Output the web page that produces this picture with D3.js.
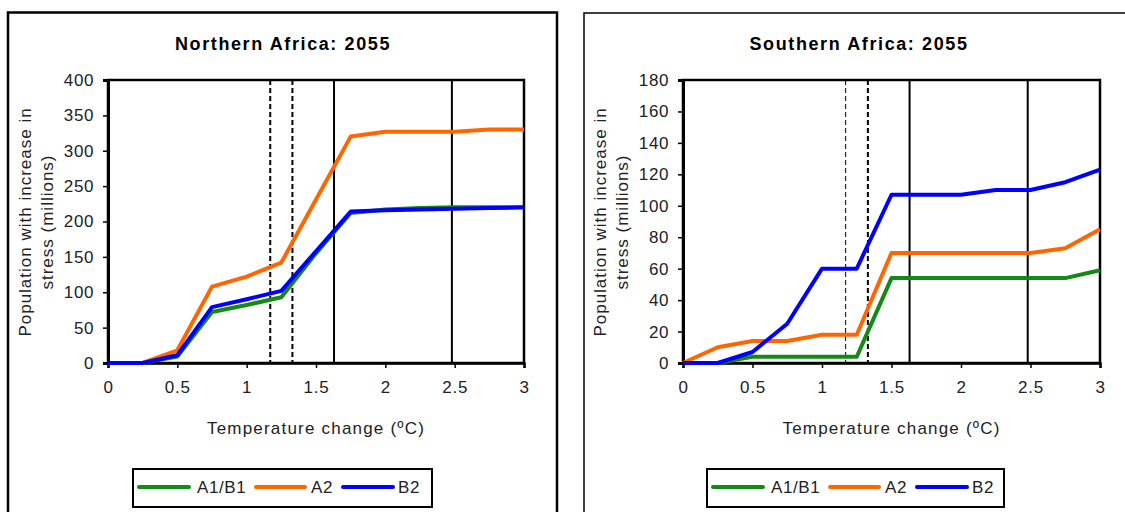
<!DOCTYPE html>
<html>
<head>
<meta charset="utf-8">
<script src="https://cdn.jsdelivr.net/npm/d3@7"></script>
<style>
  body { margin: 0; background: #fff; }
  svg { display: block; font-family: "Liberation Sans", Arial, sans-serif; }
</style>
</head>
<body>
<svg id="chart" width="1125" height="512"></svg>
<script>
// temperature steps (deg C)
var temps = [0, 0.25, 0.5, 0.75, 1, 1.25, 1.5, 1.75, 2, 2.25, 2.5, 2.75, 3];

// Northern Africa, population with increase in stress (millions)
var northA1B1 = [0, 0, 9, 72, 82, 93, 155, 212, 217, 219, 220, 220, 220];
var northA2   = [0, 0, 18, 108, 122, 142, 231, 320, 327, 327, 327, 330, 330];
var northB2   = [0, 0, 11, 79, 90, 102, 158, 214, 216, 217, 218, 219, 220];

// Southern Africa
var southA1B1 = [0, 0, 4, 4, 4, 4, 54, 54, 54, 54, 54, 54, 59];
var southA2   = [0, 10, 14, 14, 18, 18, 70, 70, 70, 70, 70, 73, 85];
var southB2   = [0, 0, 7, 25, 60, 60, 107, 107, 107, 110, 110, 115, 123];

var seriesNames = ["A1/B1", "A2", "B2"];
var seriesColors = ["#138a13", "#ff6600", "#0000ff"];

// reference temperatures (vertical lines)
var refTemps = [1.17, 1.33, 1.63, 2.48];

var xTicks = [0, 0.5, 1, 1.5, 2, 2.5, 3];
var northYTicks = d3.range(0, 401, 50);
var southYTicks = d3.range(0, 181, 20);

var svg = d3.select("#chart");

function drawPanel(p) {
  var g = svg.append("g");

  // outer frame (runs off the bottom of the picture)
  g.append("rect")
      .attr("x", p.frame[0]).attr("y", p.frame[1])
      .attr("width", p.frame[2]).attr("height", 600)
      .attr("fill", "none").attr("stroke", "#000").attr("stroke-width", p.frameW);

  g.append("text")
      .attr("x", p.titleX).attr("y", 50)
      .attr("text-anchor", "middle")
      .style("font-size", "18px").style("font-weight", "bold")
      .style("letter-spacing", "1.6px")
      .text(p.title);

  var x = d3.scaleLinear().domain([0, 3]).range([p.left, p.right]);
  var y = d3.scaleLinear().domain([0, p.ymax]).range([363, 80]);

  // plot border
  g.append("rect")
      .attr("x", p.left).attr("y", 80)
      .attr("width", p.right - p.left).attr("height", 283)
      .attr("fill", "none").attr("stroke", "#000").attr("stroke-width", 2.5);

  // reference lines
  refTemps.forEach(function(t, i) {
    var st = p.refStyle[i];
    g.append("line")
        .attr("x1", x(t)).attr("x2", x(t))
        .attr("y1", 80).attr("y2", 363)
        .attr("stroke", "#000")
        .attr("stroke-width", st.w)
        .attr("stroke-dasharray", st.dash);
  });

  var xAxis = g.append("g")
      .attr("transform", "translate(0,363)")
      .call(d3.axisBottom(x).tickValues(xTicks).tickSize(5).tickPadding(13).tickFormat(d3.format("")));
  xAxis.select(".domain").attr("stroke-width", 2.5);
  xAxis.selectAll(".tick line").attr("stroke-width", 1.5);
  xAxis.selectAll("text").style("font-size", "17px").style("letter-spacing", "0.8px").attr("fill", "#222");

  var yAxis = g.append("g")
      .attr("transform", "translate(" + p.left + ",0)")
      .call(d3.axisLeft(y).tickValues(p.yTicks).tickSize(5).tickPadding(9));
  yAxis.select(".domain").attr("stroke-width", 3);
  yAxis.selectAll(".tick line").attr("stroke-width", 1.5);
  yAxis.selectAll("text").style("font-size", "17px").style("letter-spacing", "0.6px").attr("fill", "#222");

  var line = d3.line()
      .x(function(d, i) { return x(temps[i]); })
      .y(function(d) { return y(d); });

  p.series.forEach(function(s, i) {
    g.append("path")
        .datum(s)
        .attr("d", line)
        .attr("fill", "none")
        .attr("stroke", seriesColors[i])
        .attr("stroke-width", 4)
        .attr("stroke-linejoin", "round");
  });

  // axis titles
  g.append("text")
      .attr("x", (p.left + p.right) / 2).attr("y", 434)
      .attr("text-anchor", "middle")
      .style("font-size", "17px").style("letter-spacing", "1.2px").attr("fill", "#222")
      .text("Temperature change (ºC)");

  var yt = g.append("text")
      .attr("transform", "translate(" + (p.left - 77) + ",222) rotate(-90)")
      .attr("text-anchor", "middle")
      .style("font-size", "17px").style("letter-spacing", "1px").attr("fill", "#222");
  yt.append("tspan").attr("x", 0).attr("dy", 0).text("Population with increase in");
  yt.append("tspan").attr("x", 0).attr("dy", 22).text("stress (millions)");

  // legend
  var lg = g.append("g");
  lg.append("rect")
      .attr("x", p.legend[0]).attr("y", 469)
      .attr("width", p.legend[1]).attr("height", 38)
      .attr("fill", "#fff").attr("stroke", "#000").attr("stroke-width", 2);
  var offs = [[6, 56, 64], [123, 172, 178], [210, 260, 265]];
  seriesNames.forEach(function(n, i) {
    var x0 = p.legend[0] + offs[i][0];
    lg.append("line")
        .attr("x1", x0).attr("x2", p.legend[0] + offs[i][1])
        .attr("y1", 487).attr("y2", 487)
        .attr("stroke", seriesColors[i]).attr("stroke-width", 4)
        .attr("stroke-linecap", "round");
    lg.append("text")
        .attr("x", p.legend[0] + offs[i][2]).attr("y", 493)
        .style("font-size", "17px").style("letter-spacing", "0.6px").attr("fill", "#222")
        .text(n);
  });
}

drawPanel({
  title: "Northern Africa: 2055", titleX: 283,
  frame: [8, 12.5, 549], frameW: 2.5,
  left: 108, right: 524, ymax: 400, yTicks: northYTicks,
  series: [northA1B1, northA2, northB2],
  refStyle: [{w: 2, dash: "5,3"}, {w: 2, dash: "5,3"}, {w: 2, dash: null}, {w: 2, dash: null}],
  legend: [133, 299]
});

drawPanel({
  title: "Southern Africa: 2055", titleX: 859,
  frame: [584, 13, 600], frameW: 1.5,
  left: 683, right: 1100, ymax: 180, yTicks: southYTicks,
  series: [southA1B1, southA2, southB2],
  refStyle: [{w: 1, dash: "5,3"}, {w: 2, dash: "5,3"}, {w: 2, dash: null}, {w: 2, dash: null}],
  legend: [707, 297]
});
</script>
</body>
</html>
